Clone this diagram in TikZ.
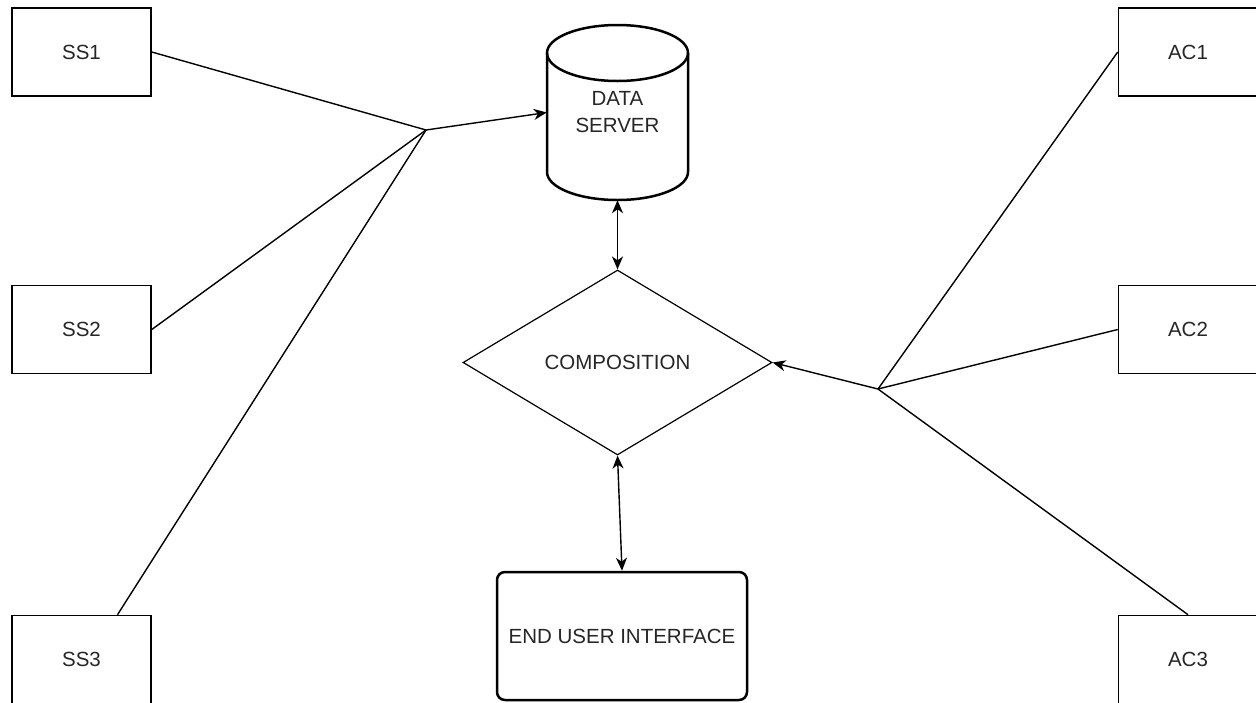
\documentclass[tikz,border=0pt]{standalone}
\usepackage{fontspec}
\setmainfont{Liberation Sans}
\usetikzlibrary{shapes.geometric,arrows.meta}
\begin{document}
\begin{tikzpicture}[x=1pt,y=-1pt,
  every node/.style={font=\fontsize{20.5}{27}\selectfont, text=black!85},
  srcbox/.style={draw, line width=1.6pt, minimum width=139pt, minimum height=88pt, inner sep=0pt},
  uibox/.style={draw, line width=2.5pt, rounded corners=8pt, minimum width=250pt, minimum height=128pt, inner sep=0pt},
  decision/.style={diamond, draw, line width=1.2pt, minimum width=309pt, minimum height=185pt, inner sep=0pt, aspect=1.67},
  dbstroke/.style={line width=2.5pt},
  link/.style={line width=1.4pt},
  tip/.style={-{Stealth[length=13pt,width=11pt,inset=4pt]}},
  bitip/.style={{Stealth[length=13pt,width=11pt,inset=4pt]}-{Stealth[length=13pt,width=11pt,inset=4pt]}}
]
\useasboundingbox (0,0) rectangle (1256,702);
\fill[white] (0,0) rectangle (1256,702);

% source boxes
\node[srcbox] (ss1) at (81.5,52) {SS1};
\node[srcbox] (ss2) at (81.5,329.5) {SS2};
\node[srcbox] (ss3) at (81.5,659.5) {SS3};
\node[srcbox] (ac1) at (1188,52) {AC1};
\node[srcbox] (ac2) at (1188,329.5) {AC2};
\node[srcbox] (ac3) at (1188,659.5) {AC3};

% data server cylinder
\draw[dbstroke] (617.5,53) ellipse [x radius=70.5, y radius=28];
\draw[dbstroke] (547,53) -- (547,172) arc[start angle=180, end angle=0, x radius=70.5, y radius=28] -- (688,53);
\node[minimum width=141pt, minimum height=175pt, inner sep=0pt, align=center] (ds) at (617.5,112.5) {DATA\\SERVER};

% composition
\node[decision] (comp) at (617.5,362.5) {COMPOSITION};

% end user interface
\node[uibox] (eui) at (622,636) {END USER INTERFACE};

% junctions
\coordinate (jl) at (426,130);
\coordinate (jr) at (878,389);

\draw[link] (ss1.east) -- (jl);
\draw[link] (ss2.east) -- (jl);
\draw[link] ([xshift=36pt]ss3.north) -- (jl);
\draw[link, tip] (jl) -- (ds.west);

\draw[link] (ac1.west) -- (jr);
\draw[link] (ac2.west) -- (jr);
\draw[link] (ac3.north) -- (jr);
\draw[link, tip] (jr) -- (comp.east);

\draw[link, bitip] (ds.south) -- (comp.north);
\draw[link, bitip] (comp.south) -- (eui.north);
\end{tikzpicture}
\end{document}
